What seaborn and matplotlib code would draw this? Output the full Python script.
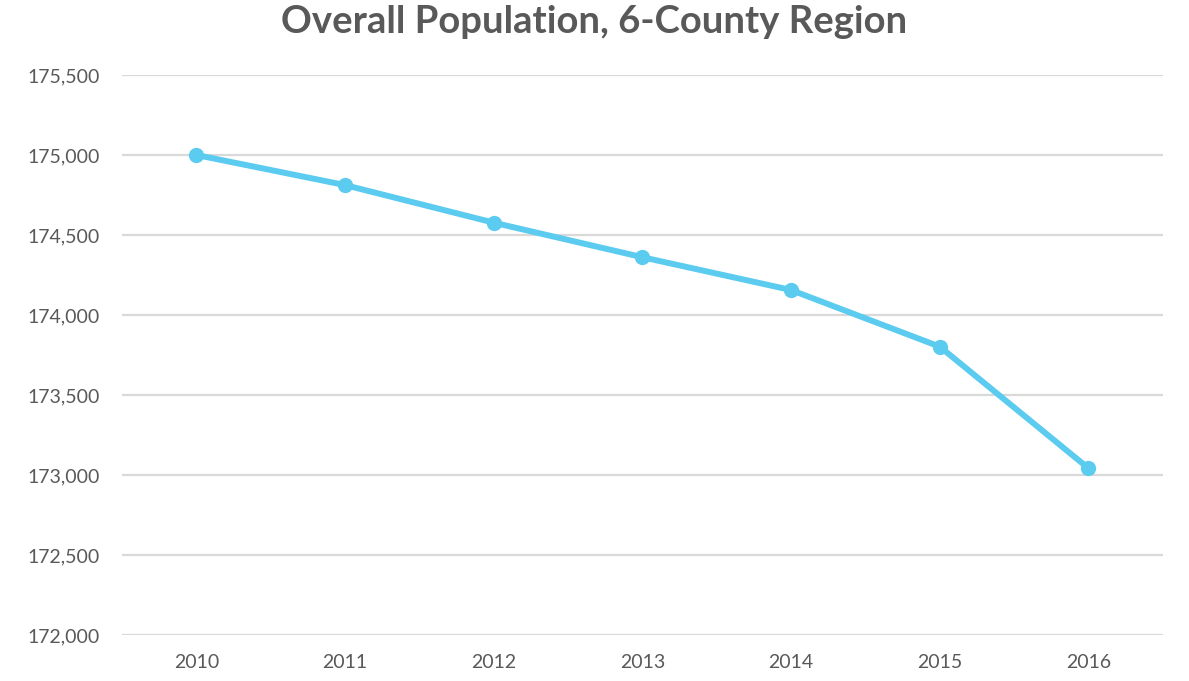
import matplotlib
matplotlib.use('Agg')
import matplotlib.pyplot as plt
import seaborn as sns
import pandas as pd
from matplotlib.ticker import FuncFormatter

# values
years = ['2010', '2011', '2012', '2013', '2014', '2015', '2016']
population = [175000, 174812, 174577, 174361, 174156, 173802, 173042]
y_ticks = [172000, 172500, 173000, 173500, 174000, 174500, 175000, 175500]

df = pd.DataFrame({'year': years, 'population': population})

sns.set_theme(style='white')
plt.rcParams['font.family'] = ['Lato', 'DejaVu Sans']

fig = plt.figure(figsize=(11.89, 6.81), dpi=100)
ax = fig.add_axes([0.1026, 0.0675, 0.8754, 0.8224])

sns.lineplot(data=df, x='year', y='population', ax=ax, color='#5BCBEF',
             linewidth=4.3, marker='o', markersize=11, markeredgewidth=0)

ax.set_ylim(172000, 175500)
ax.set_xlim(-0.5, len(years) - 0.5)
ax.set_yticks(y_ticks)
ax.yaxis.set_major_formatter(FuncFormatter(lambda v, p: f'{int(v):,}'))
ax.grid(axis='y', color='#D9D9D9', linewidth=1.6)
ax.set_axisbelow(True)
for s in ax.spines.values():
    s.set_visible(False)
ax.tick_params(axis='y', length=0, pad=16, labelsize=14, labelcolor='#595959')
ax.tick_params(axis='x', length=0, pad=14, labelsize=14, labelcolor='#595959')
ax.set_xlabel('')
ax.set_ylabel('')

fig.suptitle('Overall Population, 6-County Region', x=0.5, y=0.992,
             fontsize=27.5, fontweight='bold', color='#595959', va='top')

fig.savefig('out.png', dpi=100)
